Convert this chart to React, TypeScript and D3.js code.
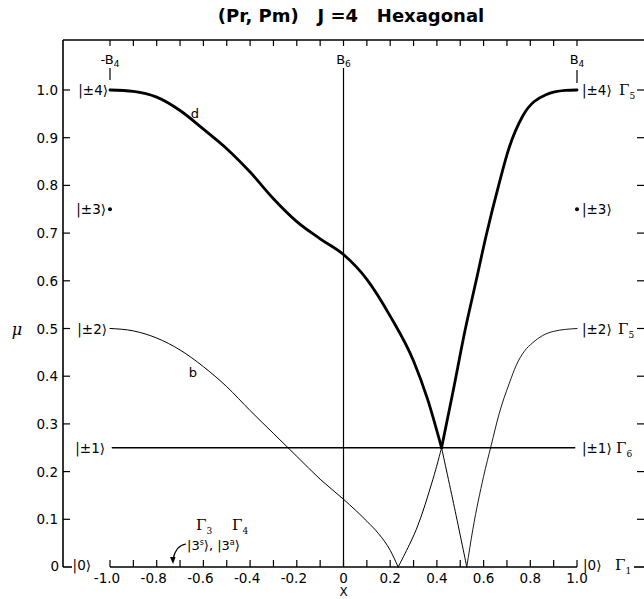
import React from 'react';
import * as d3 from 'd3';

// ---------- data ----------
const yTickValues = [0.1, 0.2, 0.3, 0.4, 0.5, 0.6, 0.7, 0.8, 0.9, 1.0];
const yTickLabels = ['0.1', '0.2', '0.3', '0.4', '0.5', '0.6', '0.7', '0.8', '0.9', '1.0'];
const xMinorTicks = [-1, -0.9, -0.8, -0.7, -0.6, -0.5, -0.4, -0.3, -0.2, -0.1, 0, 0.1, 0.2, 0.3, 0.4, 0.5, 0.6, 0.7, 0.8, 0.9, 1];
const xLabelValues = [-1, -0.8, -0.6, -0.4, -0.2, 0, 0.2, 0.4, 0.6, 0.8, 1];
const xLabelText = ['-1.0', '-0.8', '-0.6', '-0.4', '-0.2', '0', '0.2', '0.4', '0.6', '0.8', '1.0'];

// thick curve "d" from |±4> at x=-1 down to the crossing
const curveDThick: [number, number][] = [
  [-1, 1.0], [-0.9, 0.997], [-0.8, 0.985], [-0.7, 0.957], [-0.6, 0.918], [-0.5, 0.877],
  [-0.4, 0.828], [-0.3, 0.772], [-0.2, 0.724], [-0.1, 0.688], [0, 0.655], [0.1, 0.603],
  [0.2, 0.526], [0.3, 0.432], [0.36, 0.352], [0.42, 0.25],
];
// thin continuation of d below crossing down to zero
const curveDThin: [number, number][] = [[0.42, 0.25], [0.475, 0.125], [0.528, 0]];
// thick rising branch to |±4> at x=1
const curveRiseThick: [number, number][] = [
  [0.42, 0.25], [0.47, 0.37], [0.518, 0.49], [0.568, 0.6], [0.611, 0.695], [0.667, 0.805],
  [0.71, 0.88], [0.767, 0.945], [0.867, 0.99], [0.95, 0.999], [1, 1.0],
];
// thin curve "b" from |±2> at x=-1 down to zero
const curveB: [number, number][] = [
  [-1, 0.5], [-0.9, 0.495], [-0.8, 0.48], [-0.7, 0.455], [-0.6, 0.42], [-0.5, 0.378],
  [-0.4, 0.328], [-0.3, 0.28], [-0.2, 0.232], [-0.1, 0.184], [0, 0.142], [0.1, 0.096],
  [0.15, 0.07], [0.2, 0.035], [0.234, 0],
];
// thin rising from zero up to crossing
const curveRiseThin: [number, number][] = [[0.234, 0], [0.312, 0.079], [0.383, 0.184], [0.42, 0.25]];
// thin curve from zero up to |±2> at x=1
const curveRight2: [number, number][] = [
  [0.528, 0], [0.554, 0.079], [0.6, 0.19], [0.632, 0.254], [0.667, 0.322], [0.71, 0.385],
  [0.74, 0.423], [0.774, 0.452], [0.81, 0.47], [0.852, 0.485], [0.9, 0.494], [1, 0.5],
];
const flatLevel = 0.25; // |±1>
const dotLevel = 0.75; // |±3>

// ---------- component ----------
export default function App() {
  const x = d3.scaleLinear().domain([-1, 1]).range([110, 577]);
  const y = d3.scaleLinear().domain([0, 1]).range([567, 90]);
  const line = d3.line<[number, number]>().x(d => x(d[0])).y(d => y(d[1])).curve(d3.curveMonotoneX);
  const lineStraight = d3.line<[number, number]>().x(d => x(d[0])).y(d => y(d[1])).curve(d3.curveCatmullRom.alpha(0.5));

  const left = 63, top = 40, bottom = y(0), right = 644;
  const font = 'DejaVu Sans, sans-serif';
  const serif = 'DejaVu Serif, serif';
  const fs = 13.5;

  const gamma = (px: number, py: number, sub: string, key: string) => (
    <text key={key} x={px} y={py} fontFamily={serif} fontSize={15}>
      Γ<tspan fontSize={9} dy={4}>{sub}</tspan>
    </text>
  );

  return (
    <svg width={644} height={599} style={{ position: 'absolute', left: 0, top: 0, background: '#fff' }}
      viewBox="0 0 644 599">
      <rect x={0} y={0} width={644} height={599} fill="#fff" />
      {/* title */}
      <text x={351} y={22} textAnchor="middle" fontFamily={font} fontSize={18} fontWeight="bold"
        style={{ whiteSpace: 'pre' }}>{'(Pr, Pm)   J =4   Hexagonal'}</text>

      {/* frame */}
      <g stroke="#000" strokeWidth={1.6} fill="none">
        <line x1={left} y1={top} x2={right} y2={top} />
        <line x1={left} y1={top} x2={left} y2={bottom} />
        <line x1={left} y1={bottom} x2={72} y2={bottom} />
        <line x1={x(-1)} y1={bottom} x2={x(1)} y2={bottom} />
        <line x1={634} y1={bottom} x2={right} y2={bottom} />
      </g>
      {/* ticks */}
      <g stroke="#000" strokeWidth={1.2}>
        {yTickValues.map(v => (
          <line key={'l' + v} x1={left} x2={left + 7} y1={y(v)} y2={y(v)} />
        ))}
        {yTickValues.map(v => (
          <line key={'r' + v} x1={right - 7} x2={right} y1={y(v)} y2={y(v)} />
        ))}
        {xMinorTicks.map(v => (
          <line key={'t' + v} x1={x(v)} x2={x(v)} y1={top} y2={top + 6} />
        ))}
        {xMinorTicks.map(v => (
          <line key={'b' + v} x1={x(v)} x2={x(v)} y1={bottom} y2={bottom - 7} />
        ))}
      </g>
      {/* y tick labels */}
      <g fontFamily={font} fontSize={fs} textAnchor="end">
        {yTickValues.map((v, i) => (
          <text key={v} x={58} y={y(v) + 5}>{yTickLabels[i]}</text>
        ))}
        <text x={59} y={bottom + 4}>0</text>
      </g>
      {/* x tick labels */}
      <g fontFamily={font} fontSize={fs} textAnchor="middle">
        {xLabelValues.map((v, i) => (
          <text key={v} x={x(v) - (v < 0 ? 3 : 0)} y={bottom + 16}>{xLabelText[i]}</text>
        ))}
      </g>
      <text x={x(0)} y={596} textAnchor="middle" fontFamily={font} fontSize={12}>X</text>
      <text x={17} y={335} textAnchor="middle" fontFamily={serif} fontStyle="italic" fontSize={16}>μ</text>

      {/* B labels */}
      <g fontFamily={font} fontSize={13} textAnchor="middle">
        <text x={x(-1)} y={64}>-B<tspan fontSize={9} dy={3}>4</tspan></text>
        <text x={x(0)} y={64}>B<tspan fontSize={9} dy={3}>6</tspan></text>
        <text x={x(1)} y={64}>B<tspan fontSize={9} dy={3}>4</tspan></text>
      </g>
      <g stroke="#000" strokeWidth={1.2}>
        <line x1={x(-1)} x2={x(-1)} y1={68} y2={80} />
        <line x1={x(1)} x2={x(1)} y1={70} y2={83} />
        <line x1={x(0)} x2={x(0)} y1={68} y2={bottom} />
      </g>

      {/* curves */}
      <g fill="none" stroke="#000" strokeLinecap="round">
        <path d={line(curveDThick) || ''} strokeWidth={2.8} />
        <path d={line(curveRiseThick) || ''} strokeWidth={2.8} />
        <path d={lineStraight(curveDThin) || ''} strokeWidth={1} />
        <path d={lineStraight(curveRiseThin) || ''} strokeWidth={1} />
        <path d={line(curveB) || ''} strokeWidth={1} />
        <path d={line(curveRight2) || ''} strokeWidth={0.9} />
        <line x1={x(-0.99)} x2={x(0.99)} y1={y(flatLevel)} y2={y(flatLevel)} strokeWidth={1.5} />
      </g>
      <circle cx={x(-1)} cy={y(dotLevel)} r={2} fill="#000" />
      <circle cx={x(1)} cy={y(dotLevel)} r={2} fill="#000" />

      {/* curve labels */}
      <text x={195} y={118} fontFamily={font} fontSize={13} textAnchor="middle">d</text>
      <text x={193} y={377} fontFamily={font} fontSize={13} textAnchor="middle">b</text>

      {/* left state labels */}
      <g fontFamily={font} fontSize={fs} textAnchor="end">
        <text x={x(-1) - 2} y={y(1) + 5}>|±4⟩</text>
        <text x={x(-1) - 4} y={y(dotLevel) + 5}>|±3⟩</text>
        <text x={x(-1) - 3} y={y(0.5) + 5}>|±2⟩</text>
        <text x={x(-1) - 5} y={y(flatLevel) + 5}>|±1⟩</text>
        <text x={x(-1) - 19} y={bottom + 3}>|0⟩</text>
      </g>
      {/* right state labels */}
      <g fontFamily={font} fontSize={fs} textAnchor="start">
        <text x={x(1) + 5} y={y(1) + 5}>|±4⟩</text>
        <text x={x(1) + 5} y={y(dotLevel) + 5}>|±3⟩</text>
        <text x={x(1) + 5} y={y(0.5) + 5}>|±2⟩</text>
        <text x={x(1) + 5} y={y(flatLevel) + 5}>|±1⟩</text>
        <text x={x(1) + 6} y={bottom + 3}>|0⟩</text>
      </g>
      {gamma(619, y(1) + 5, '5', 'g5a')}
      {gamma(618, y(0.5) + 5, '5', 'g5b')}
      {gamma(616, y(flatLevel) + 5, '6', 'g6')}
      {gamma(615, bottom + 3, '1', 'g1')}

      {/* bottom-left annotation */}
      {gamma(196, 530, '3', 'g3')}
      {gamma(232, 530, '4', 'g4')}
      <text x={187} y={550} fontFamily={font} fontSize={13}>
        |3<tspan fontSize={8} dy={-5}>s</tspan><tspan dy={5}>⟩, |3</tspan><tspan fontSize={8} dy={-5}>a</tspan><tspan dy={5}>⟩</tspan>
      </text>
      <path d={`M186,544 C179,545 175,550 ${x(-0.73)},${bottom - 8}`} fill="none" stroke="#000" strokeWidth={1.2} />
      <path d={`M${x(-0.73) - 3},${bottom - 10} L${x(-0.73)},${bottom - 3} L${x(-0.73) + 2.5},${bottom - 10} Z`} fill="#000" />
    </svg>
  );
}
